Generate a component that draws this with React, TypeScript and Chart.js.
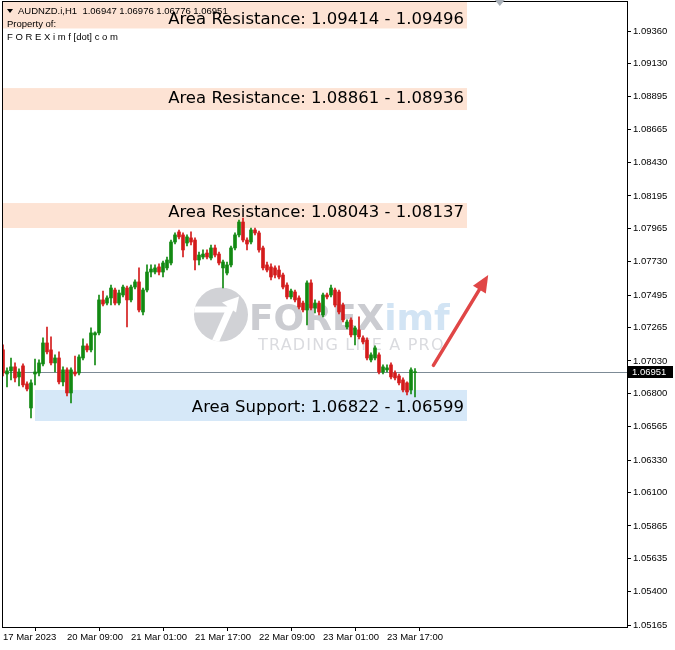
import React, { useEffect, useRef } from "react";
import { Chart, registerables } from "chart.js";

Chart.register(...registerables);

// ---------- data ----------
const headerSymbol = "AUDNZD.i,H1";
const headerOHLC = "1.06947 1.06976 1.06776 1.06951";
const headerLines = ["Property of:", "F O R E X i m f [dot] c o m"];

const opens = [
  1.07108, 1.06938, 1.0696, 1.06988, 1.06917, 1.06995, 1.06868, 1.06698, 1.06938, 1.06945,
  1.07009, 1.07157, 1.07108, 1.07016, 1.07051, 1.06882, 1.06967, 1.06804, 1.06952, 1.06945,
  1.07051, 1.07136, 1.07108, 1.07214, 1.07228, 1.07461, 1.07439, 1.07475, 1.07531, 1.07439,
  1.07496, 1.07545, 1.07461, 1.07552, 1.07588, 1.07376, 1.07531, 1.07658, 1.07658, 1.07694,
  1.07658, 1.07687, 1.07722, 1.0787, 1.07941, 1.0792, 1.07863, 1.07899, 1.07884, 1.07743,
  1.07764, 1.07792, 1.07757, 1.07828, 1.07785, 1.07687, 1.07651, 1.07708, 1.07828, 1.0792,
  1.08011, 1.07884, 1.0787, 1.07955, 1.07934, 1.07828, 1.07708, 1.07694, 1.07687, 1.07672,
  1.07637, 1.07566, 1.07482, 1.07517, 1.07475, 1.07439, 1.0739, 1.07581, 1.07404, 1.07439,
  1.07355, 1.07496, 1.07496, 1.07531, 1.07517, 1.07425, 1.0727, 1.0732, 1.07214, 1.07249,
  1.07193, 1.07178, 1.07037, 1.07051, 1.07073, 1.06952, 1.06967, 1.07002, 1.06945, 1.06924,
  1.06896, 1.06875, 1.06825, 1.06947,
];
const highs = [
  1.07143, 1.06981, 1.07051, 1.07016, 1.06974, 1.07009, 1.06882, 1.06896, 1.07044, 1.07037,
  1.07193, 1.0727, 1.072, 1.07073, 1.07094, 1.06988, 1.06981, 1.06981, 1.07065, 1.07073,
  1.07186, 1.0715, 1.07263, 1.07235, 1.07496, 1.07524, 1.07489, 1.07566, 1.07545, 1.07531,
  1.07566, 1.07559, 1.07566, 1.07602, 1.07687, 1.07545, 1.07708, 1.07708, 1.07708, 1.07715,
  1.07736, 1.07764, 1.07884, 1.07934, 1.07955, 1.07934, 1.0792, 1.07941, 1.07899, 1.07799,
  1.07814, 1.07814, 1.07849, 1.07849, 1.07799, 1.07743, 1.07729, 1.07842, 1.07934, 1.08025,
  1.08039, 1.07899, 1.07969, 1.07969, 1.07948, 1.07842, 1.07729, 1.07715, 1.07701, 1.07701,
  1.07651, 1.07581, 1.07538, 1.07531, 1.07489, 1.07453, 1.07595, 1.07602, 1.07461, 1.07453,
  1.0751, 1.0751, 1.07566, 1.07545, 1.07531, 1.07439, 1.0732, 1.07334, 1.07277, 1.07341,
  1.07207, 1.07193, 1.07087, 1.07136, 1.07087, 1.07002, 1.07002, 1.07016, 1.0696, 1.06938,
  1.0691, 1.06882, 1.06981, 1.06976,
];
const lows = [
  1.06924, 1.06847, 1.06896, 1.06882, 1.06854, 1.06847, 1.06818, 1.06627, 1.06861, 1.06924,
  1.06995, 1.0708, 1.07002, 1.06952, 1.06868, 1.06854, 1.06783, 1.06733, 1.06924, 1.06931,
  1.07037, 1.07094, 1.07094, 1.07002, 1.07214, 1.07418, 1.07425, 1.07425, 1.07425, 1.07425,
  1.07482, 1.0727, 1.07446, 1.07538, 1.07376, 1.07355, 1.07517, 1.07623, 1.07644, 1.07637,
  1.07623, 1.07672, 1.07708, 1.07856, 1.07891, 1.07764, 1.07842, 1.07849, 1.07672, 1.07708,
  1.0775, 1.0775, 1.07743, 1.07764, 1.07708, 1.07545, 1.07637, 1.07694, 1.07814, 1.07906,
  1.0787, 1.07814, 1.07856, 1.0792, 1.07799, 1.07672, 1.07658, 1.07602, 1.07616, 1.07609,
  1.07538, 1.07468, 1.07468, 1.07446, 1.07397, 1.07376, 1.07284, 1.0739, 1.07369, 1.07355,
  1.07341, 1.07468, 1.07482, 1.07411, 1.07362, 1.07305, 1.07256, 1.072, 1.07143, 1.07186,
  1.0715, 1.07037, 1.07023, 1.07037, 1.06938, 1.06938, 1.06952, 1.06903, 1.06896, 1.06861,
  1.06811, 1.0679, 1.06797, 1.06776,
];
const closes = [
  1.06945, 1.0696, 1.06988, 1.0691, 1.06952, 1.06861, 1.06832, 1.06875, 1.06952, 1.07016,
  1.07157, 1.07094, 1.07016, 1.07051, 1.06882, 1.06967, 1.06804, 1.06967, 1.06938, 1.07058,
  1.07136, 1.07108, 1.07228, 1.07228, 1.07461, 1.07432, 1.07475, 1.07545, 1.07439, 1.0751,
  1.07552, 1.07461, 1.07552, 1.07588, 1.0739, 1.07531, 1.07658, 1.07679, 1.07687, 1.07658,
  1.07722, 1.07743, 1.0787, 1.0792, 1.07906, 1.07814, 1.07906, 1.0787, 1.07743, 1.07778,
  1.07785, 1.07764, 1.07828, 1.07778, 1.07722, 1.07729, 1.07708, 1.07828, 1.0792, 1.08011,
  1.07884, 1.07856, 1.07955, 1.07934, 1.07814, 1.07687, 1.07672, 1.07623, 1.07637, 1.07623,
  1.07552, 1.07482, 1.07524, 1.07461, 1.07411, 1.0739, 1.07581, 1.07404, 1.07439, 1.07376,
  1.07496, 1.07482, 1.07545, 1.07425, 1.07376, 1.0732, 1.07305, 1.07214, 1.07263, 1.072,
  1.07164, 1.07051, 1.07073, 1.07122, 1.06952, 1.06988, 1.06981, 1.06917, 1.0691, 1.06875,
  1.06825, 1.06811, 1.06967, 1.06951,
];

const xTickIndex = [0, 16, 32, 48, 64, 80, 96];
const xTickLabels = [
  "17 Mar 2023",
  "20 Mar 09:00",
  "21 Mar 01:00",
  "21 Mar 17:00",
  "22 Mar 09:00",
  "23 Mar 01:00",
  "23 Mar 17:00",
];
const yTickValues = [
  1.0936, 1.0913, 1.08895, 1.08665, 1.0843, 1.08195, 1.07965, 1.0773, 1.07495, 1.07265,
  1.0703, 1.068, 1.06565, 1.0633, 1.061, 1.05865, 1.05635, 1.054, 1.05165,
];

const zoneLabels = [
  "Area Resistance: 1.09414 - 1.09496",
  "Area Resistance: 1.08861 - 1.08936",
  "Area Resistance: 1.08043 - 1.08137",
  "Area Support: 1.06822 - 1.06599",
];
const zoneLow = [1.09414, 1.08861, 1.08043, 1.06599];
const zoneHigh = [1.09496, 1.08936, 1.08137, 1.06822];
const bandTop = [1.096, 1.08957, 1.08145, 1.06825];
const bandBottom = [1.09378, 1.08802, 1.07969, 1.06606];
const bandStart = [-2, -2, -2, 8];
const bandEnd = [116, 116, 116, 116];
const bandKind = ["res", "res", "res", "sup"];

const currentPrice = 1.06951;
const arrowFrom = [107.6, 1.06999];
const arrowTo = [121.3, 1.07637];
const shiftMarkerIndex = 124.2;

const xMin = 0;
const xMax = 156;
const yMin = 1.05151;
const yMax = 1.09565;

// ---------- styles ----------
const BULL = "#138a13";
const BEAR = "#d41c1c";
const AXIS_FONT = "Liberation Sans";

export default function App() {
  const ref = useRef<HTMLCanvasElement | null>(null);

  useEffect(() => {
    if (!ref.current) return;
    const colors = opens.map((o, i) => (closes[i] >= o ? BULL : BEAR));

    const overlay = {
      id: "overlay",
      beforeDatasetsDraw(chart: any) {
        const { ctx, chartArea: a, scales } = chart;
        const x = scales.x;
        const y = scales.y;
        ctx.save();
        ctx.beginPath();
        ctx.rect(a.left, a.top, a.right - a.left, a.bottom - a.top);
        ctx.clip();

        // bands
        for (let i = 0; i < zoneLabels.length; i++) {
          const x0 = x.getPixelForValue(bandStart[i]);
          const x1 = x.getPixelForValue(bandEnd[i]);
          const y0 = y.getPixelForValue(bandTop[i]);
          const y1 = y.getPixelForValue(bandBottom[i]);
          ctx.fillStyle = bandKind[i] === "res" ? "#fde3d4" : "#d6e8f8";
          ctx.fillRect(x0, y0, x1 - x0, y1 - y0);
        }

        // watermark
        const cx = (a.left + a.right) / 2;
        const cy = (a.top + a.bottom) / 2;
        const lx = cx - 94;
        const ly = cy;
        ctx.save();
        ctx.beginPath();
        ctx.arc(lx, ly, 27, 0, Math.PI * 2);
        ctx.fillStyle = "#d1d2d6";
        ctx.fill();
        ctx.clip();
        ctx.strokeStyle = "#ffffff";
        ctx.lineCap = "butt";
        ctx.lineWidth = 6;
        ctx.beginPath();
        ctx.moveTo(lx - 28, ly - 5);
        ctx.lineTo(lx + 6, ly - 5);
        ctx.stroke();
        ctx.lineWidth = 7;
        ctx.beginPath();
        ctx.moveTo(lx - 6, ly + 28);
        ctx.lineTo(lx + 10, ly - 8);
        ctx.stroke();
        ctx.beginPath();
        ctx.moveTo(lx + 18, ly - 18);
        ctx.lineTo(lx + 1, ly - 12);
        ctx.lineTo(lx + 15, ly - 2);
        ctx.closePath();
        ctx.fillStyle = "#ffffff";
        ctx.fill();
        ctx.restore();

        ctx.textBaseline = "alphabetic";
        ctx.textAlign = "left";
        ctx.font = 'bold 36px "DejaVu Sans"';
        ctx.fillStyle = "#cbccd1";
        const fx = cx - 66;
        ctx.fillText("FOREX", fx, cy + 15.5);
        const fw = ctx.measureText("FOREX").width;
        ctx.fillStyle = "#d2e4f4";
        ctx.fillText("imf", fx + fw, cy + 15.5);
        ctx.font = '16px "DejaVu Sans"';
        (ctx as any).letterSpacing = "1.2px";
        ctx.fillStyle = "#dadbdf";
        ctx.fillText("TRADING LIFE A PRO", cx - 57, cy + 35.5);
        (ctx as any).letterSpacing = "0px";

        // current price line
        const py = Math.round(y.getPixelForValue(currentPrice)) + 0.5;
        ctx.strokeStyle = "#7d8b96";
        ctx.lineWidth = 1;
        ctx.beginPath();
        ctx.moveTo(a.left, py);
        ctx.lineTo(a.right, py);
        ctx.stroke();

        // zone labels
        ctx.font = '16.5px "DejaVu Sans"';
        ctx.fillStyle = "#000000";
        ctx.textAlign = "right";
        ctx.textBaseline = "middle";
        for (let i = 0; i < zoneLabels.length; i++) {
          const mid = (zoneLow[i] + zoneHigh[i]) / 2;
          const ty = y.getPixelForValue(mid) + 2;
          ctx.fillText(zoneLabels[i], x.getPixelForValue(bandEnd[i]) - 3, ty);
        }
        ctx.restore();
      },
      afterDatasetsDraw(chart: any) {
        const { ctx, chartArea: a, scales } = chart;
        const x = scales.x;
        const y = scales.y;
        ctx.save();
        ctx.beginPath();
        ctx.rect(a.left, a.top, a.right - a.left, a.bottom - a.top);
        ctx.clip();
        const x0 = x.getPixelForValue(arrowFrom[0]);
        const y0 = y.getPixelForValue(arrowFrom[1]);
        const x1 = x.getPixelForValue(arrowTo[0]);
        const y1 = y.getPixelForValue(arrowTo[1]);
        const ang = Math.atan2(y1 - y0, x1 - x0);
        const headL = 17;
        const headW = 7.5;
        const bx = x1 - headL * Math.cos(ang);
        const by = y1 - headL * Math.sin(ang);
        ctx.strokeStyle = "#e04646";
        ctx.fillStyle = "#e04646";
        ctx.lineWidth = 3.5;
        ctx.lineCap = "round";
        ctx.beginPath();
        ctx.moveTo(x0, y0);
        ctx.lineTo(bx + 2 * Math.cos(ang), by + 2 * Math.sin(ang));
        ctx.stroke();
        ctx.beginPath();
        ctx.moveTo(x1, y1);
        ctx.lineTo(bx + headW * Math.sin(ang), by - headW * Math.cos(ang));
        ctx.lineTo(bx - headW * Math.sin(ang), by + headW * Math.cos(ang));
        ctx.closePath();
        ctx.fill();
        ctx.restore();
      },
      afterDraw(chart: any) {
        const { ctx, chartArea: a, scales } = chart;
        const x = scales.x;
        const y = scales.y;
        ctx.save();
        // frame
        ctx.strokeStyle = "#000000";
        ctx.lineWidth = 1;
        ctx.strokeRect(a.left - 0.5, a.top - 0.5, a.right - a.left + 1, a.bottom - a.top + 1);

        // shift marker
        const sx = x.getPixelForValue(shiftMarkerIndex);
        ctx.fillStyle = "#a9b0b8";
        ctx.beginPath();
        ctx.moveTo(sx - 5, a.top - 2);
        ctx.lineTo(sx + 5, a.top - 2);
        ctx.lineTo(sx, a.top + 4);
        ctx.closePath();
        ctx.fill();

        // header
        ctx.fillStyle = "#000000";
        ctx.beginPath();
        ctx.moveTo(a.left + 4, a.top + 7);
        ctx.lineTo(a.left + 10, a.top + 7);
        ctx.lineTo(a.left + 7, a.top + 11);
        ctx.closePath();
        ctx.fill();
        ctx.font = `9.5px "${AXIS_FONT}"`;
        ctx.textAlign = "left";
        ctx.textBaseline = "middle";
        ctx.fillText(`${headerSymbol}  ${headerOHLC}`, a.left + 15, a.top + 9);
        headerLines.forEach((t, i) => ctx.fillText(t, a.left + 4, a.top + 22 + i * 13));

        // current price box
        const py = Math.round(y.getPixelForValue(currentPrice));
        ctx.fillStyle = "#000000";
        ctx.fillRect(a.right + 1, py - 6, 45, 12);
        ctx.fillStyle = "#ffffff";
        ctx.font = `9.5px "${AXIS_FONT}"`;
        ctx.fillText(currentPrice.toFixed(5), a.right + 5, py + 0.5);
        ctx.restore();
      },
    };

    const chart = new Chart(ref.current, {
      type: "bar",
      data: {
        datasets: [
          {
            data: opens.map((_, i) => ({ x: i, y: [lows[i], highs[i]] })) as any,
            backgroundColor: colors,
            barThickness: 1,
            grouped: false,
            borderWidth: 0,
          } as any,
          {
            data: opens.map((o, i) => ({ x: i, y: [o, closes[i]] })) as any,
            backgroundColor: colors,
            barThickness: 3,
            minBarLength: 1,
            grouped: false,
            borderWidth: 0,
          } as any,
        ],
      },
      options: {
        animation: false,
        responsive: true,
        maintainAspectRatio: false,
        events: [],
        layout: { padding: { left: 3, top: 2, right: 0, bottom: 0 } },
        plugins: { legend: { display: false }, tooltip: { enabled: false } },
        scales: {
          x: {
            type: "linear",
            min: xMin,
            max: xMax,
            offset: false,
            afterBuildTicks: (s: any) => {
              s.ticks = xTickIndex.map((v) => ({ value: v }));
            },
            afterFit: (s: any) => {
              s.height = 23;
              s.paddingLeft = 0;
              s.paddingRight = 0;
              s.paddingTop = 0;
              s.paddingBottom = 0;
            },
            ticks: {
              autoSkip: false,
              maxRotation: 0,
              align: "start",
              padding: 1,
              color: "#000",
              font: { family: AXIS_FONT, size: 9.5 },
              callback: (v: any) => {
                const k = xTickIndex.indexOf(Number(v));
                return k >= 0 ? xTickLabels[k] : "";
              },
            },
            grid: {
              drawOnChartArea: false,
              drawTicks: true,
              tickLength: 4,
              color: "#000",
            },
            border: { display: true, color: "#000" },
          },
          y: {
            type: "linear",
            position: "right",
            min: yMin,
            max: yMax,
            afterBuildTicks: (s: any) => {
              s.ticks = yTickValues.map((v) => ({ value: v }));
            },
            afterFit: (s: any) => {
              s.width = 48;
              s.paddingTop = 0;
              s.paddingBottom = 0;
              s.paddingLeft = 0;
              s.paddingRight = 0;
            },
            ticks: {
              autoSkip: false,
              padding: 2,
              color: "#000",
              font: { family: AXIS_FONT, size: 9.5 },
              callback: (v: any) => Number(v).toFixed(5),
            },
            grid: {
              drawOnChartArea: false,
              drawTicks: true,
              tickLength: 4,
              color: "#000",
            },
            border: { display: true, color: "#000" },
          },
        },
      },
      plugins: [overlay],
    });
    return () => chart.destroy();
  }, []);

  return (
    <div
      style={{
        position: "fixed",
        left: 0,
        top: 0,
        width: 675,
        height: 650,
        background: "#ffffff",
      }}
    >
      <canvas ref={ref} />
    </div>
  );
}
